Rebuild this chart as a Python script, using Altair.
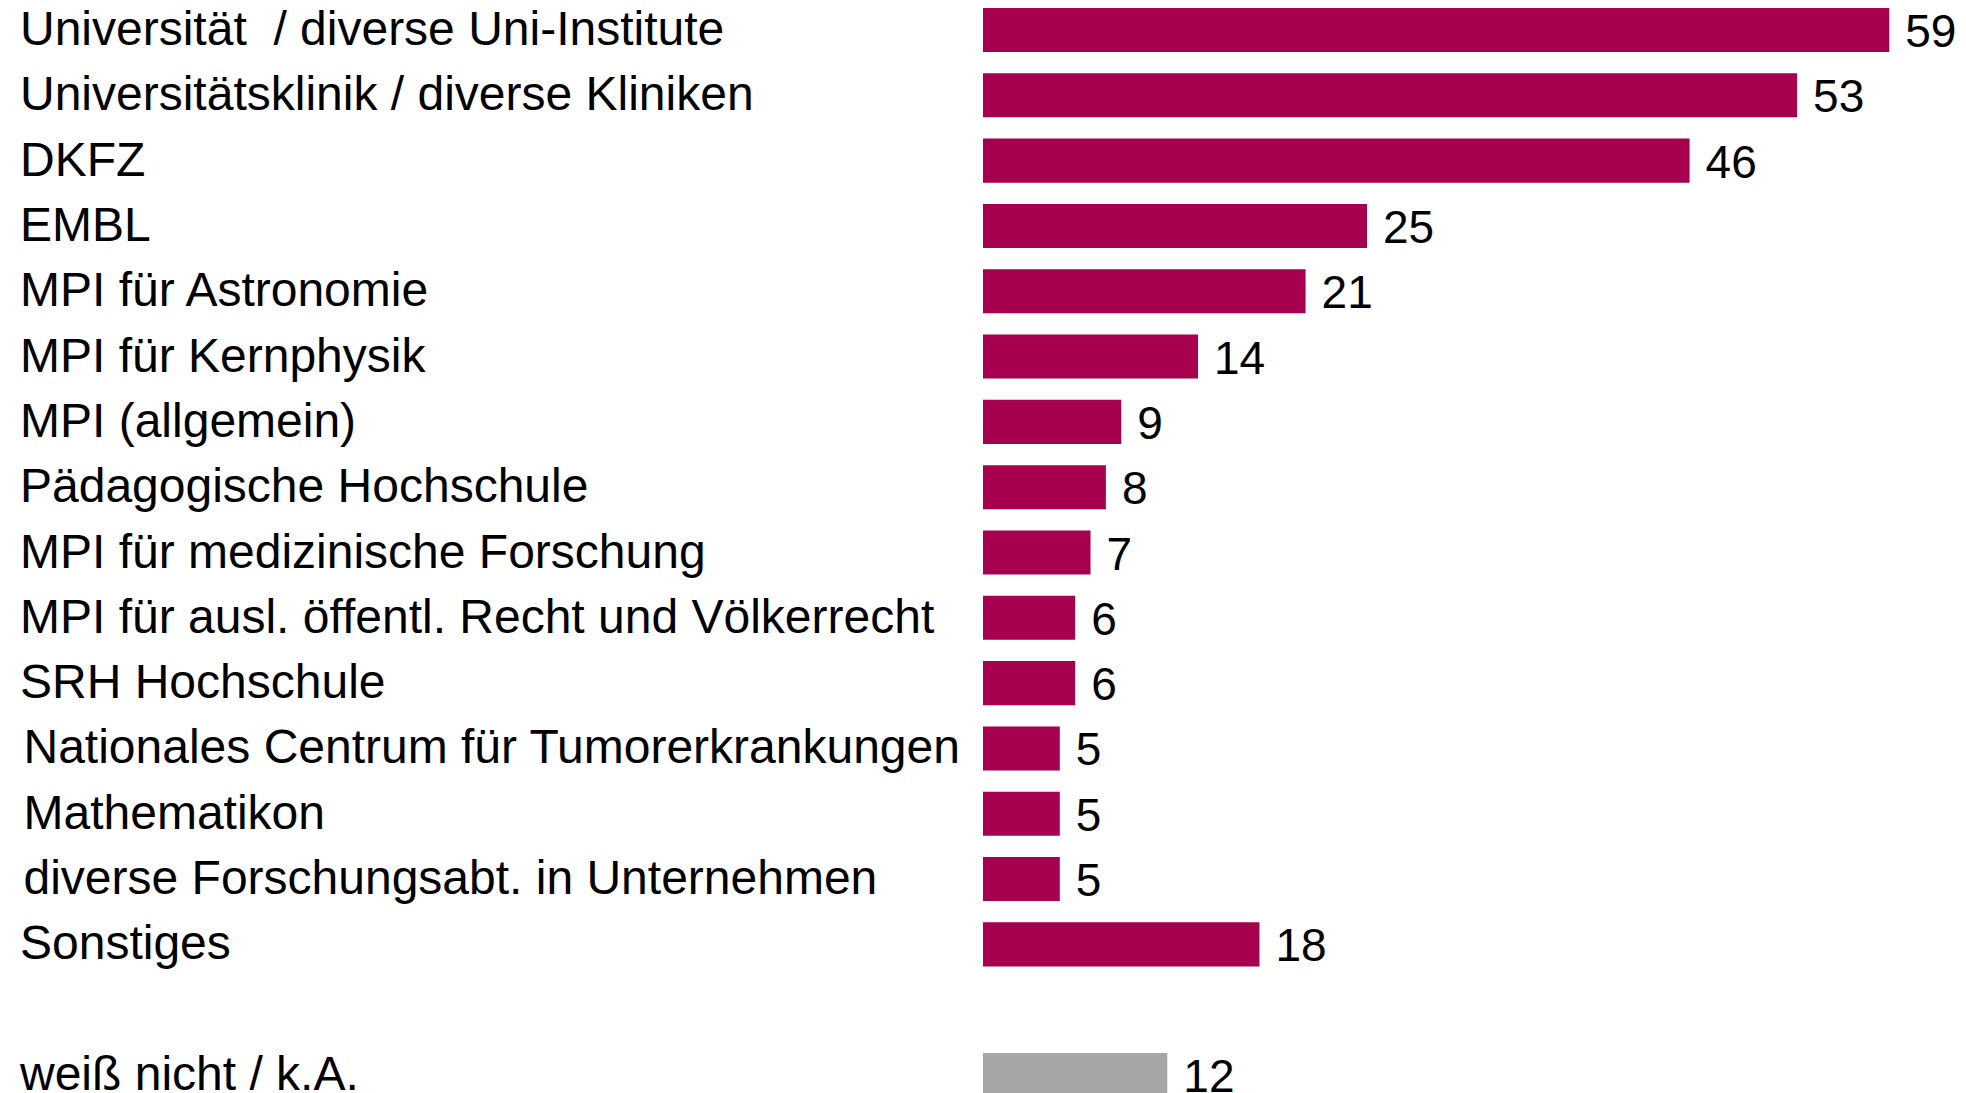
import json
import altair as alt
import pandas as pd

categories = [
    "Universität\u00a0 / diverse Uni-Institute",
    "Universitätsklinik / diverse Kliniken",
    "DKFZ",
    "EMBL",
    "MPI für Astronomie",
    "MPI für Kernphysik",
    "MPI (allgemein)",
    "Pädagogische Hochschule",
    "MPI für medizinische Forschung",
    "MPI für ausl. öffentl. Recht und Völkerrecht",
    "SRH Hochschule",
    "Nationales Centrum für Tumorerkrankungen",
    "Mathematikon",
    "diverse Forschungsabt. in Unternehmen",
    "Sonstiges",
    "weiß nicht / k.A.",
]
values = [59, 53, 46, 25, 21, 14, 9, 8, 7, 6, 6, 5, 5, 5, 18, 12]
groups = ["Antwort"] * 15 + ["keine Angabe"]
indented = [
    "Nationales Centrum für Tumorerkrankungen",
    "Mathematikon",
    "diverse Forschungsabt. in Unternehmen",
]

df = pd.DataFrame({"label": categories, "value": values, "group": groups})
y_domain = categories[:15] + [" "] + categories[15:]

PX_PER_UNIT = 15.36
X0 = 975
xscale = alt.Scale(domain=[0, 63], range=[X0, X0 + 63 * PX_PER_UNIT], nice=False, zero=True)
yscale = alt.Scale(domain=y_domain, range=[0, 1089], paddingInner=0.326, paddingOuter=0)
color = alt.Color(
    "group:N",
    scale=alt.Scale(domain=["Antwort", "keine Angabe"], range=["#A6004E", "#A6A6A6"]),
    legend=None,
)

base = alt.Chart(df)

bars = base.mark_bar(clip=True).encode(
    x=alt.X("value:Q", scale=xscale, axis=None),
    y=alt.Y("label:N", scale=yscale, axis=None),
    color=color,
)

ind_list = json.dumps(indented, ensure_ascii=False)

labels = base.mark_text(
    align="left", baseline="middle", font="Liberation Sans", fontSize=48, dy=1, color="black"
).encode(
    x=alt.value(12),
    y=alt.Y("label:N", scale=yscale, axis=None),
    text="label:N",
).transform_filter(f"indexof({ind_list}, datum.label) < 0")

labels_ind = base.mark_text(
    align="left", baseline="middle", font="Liberation Sans", fontSize=48, dy=1, color="black"
).encode(
    x=alt.value(15.5),
    y=alt.Y("label:N", scale=yscale, axis=None),
    text="label:N",
).transform_filter(f"indexof({ind_list}, datum.label) >= 0")

vals = base.mark_text(
    align="left", baseline="middle", font="Liberation Sans", fontSize=46, dx=16, dy=3, color="black"
).encode(
    x=alt.X("value:Q", scale=xscale, axis=None),
    y=alt.Y("label:N", scale=yscale, axis=None),
    text="value:Q",
)

chart = (
    alt.layer(bars, labels, labels_ind, vals)
    .properties(width=1948, height=1085, autosize=alt.AutoSizeParams(type="none"), padding=0)
    .configure_view(stroke=None)
)

chart.save("out.html", embed_options={"renderer": "svg", "actions": False})
